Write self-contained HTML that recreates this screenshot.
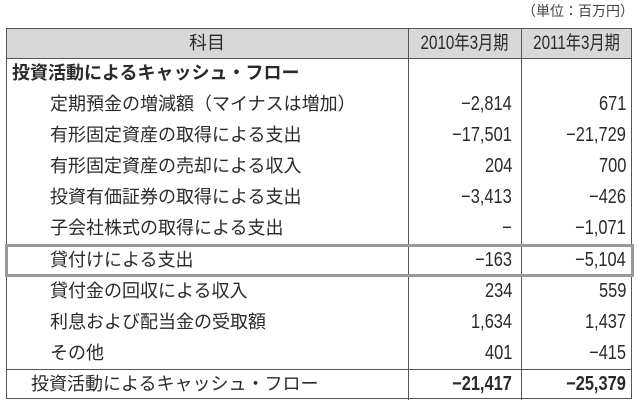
<!DOCTYPE html>
<html><head><meta charset="utf-8"><style>
body{margin:0;width:640px;height:407px;background:#fff;font-family:"Liberation Sans","Noto Sans CJK JP",sans-serif;color:#2a2a2a;position:relative;overflow:hidden}
.a{position:absolute}
.unit{right:6px;top:1px;font-size:14px;color:#444}
.tbl{left:6px;top:28px;width:626px;height:371px;border:1px solid #555;box-sizing:border-box}
.hdr{left:7px;top:29px;width:624px;height:29px;background:#d8d8d8;border-bottom:1px solid #555}
.vl{top:28px;height:372px;width:1px;background:#555}
.row{left:6px;width:626px;height:31px;font-size:18px;line-height:31px}
.row .l{position:absolute;white-space:nowrap}
.row .v1,.row .v2{position:absolute;text-align:right;font-size:20px;transform:scaleX(0.82);transform-origin:right center}
.row .v1{right:120px}
.row .v2{right:6px}
.hd{font-size:19px;transform:scaleX(0.8);transform-origin:center center}
.hl{left:5px;top:244px;width:629px;height:33px;border:3px solid #9a9a9a;box-sizing:border-box}
.hline{left:6px;width:626px;height:1px;background:#555}
</style></head><body>
<div class="a unit">（単位：百万円）</div>
<div class="a hdr"></div>
<div class="a tbl"></div>
<div class="a vl" style="left:408px"></div>
<div class="a vl" style="left:521px"></div>
<div class="a row" style="top:28px">
<span class="l" style="left:0;width:402px;text-align:center">科目</span>
<span class="l hd" style="left:402px;width:113px;text-align:center">2010年3月期</span>
<span class="l hd" style="left:515px;width:111px;text-align:center">2011年3月期</span></div>
<div class="a row" style="top:58px;font-weight:bold"><span class="l" style="left:6px">投資活動によるキャッシュ・フロー</span></div>
<div class="a row" style="top:89px"><span class="l" style="left:44px">定期預金の増減額（マイナスは増加）</span><span class="v1">−2,814</span><span class="v2">671</span></div>
<div class="a row" style="top:120px"><span class="l" style="left:44px">有形固定資産の取得による支出</span><span class="v1">−17,501</span><span class="v2">−21,729</span></div>
<div class="a row" style="top:151px"><span class="l" style="left:44px">有形固定資産の売却による収入</span><span class="v1">204</span><span class="v2">700</span></div>
<div class="a row" style="top:182px"><span class="l" style="left:44px">投資有価証券の取得による支出</span><span class="v1">−3,413</span><span class="v2">−426</span></div>
<div class="a row" style="top:213px"><span class="l" style="left:44px">子会社株式の取得による支出</span><span class="v1">−</span><span class="v2">−1,071</span></div>
<div class="a row" style="top:245px"><span class="l" style="left:44px">貸付けによる支出</span><span class="v1">−163</span><span class="v2">−5,104</span></div>
<div class="a row" style="top:276px"><span class="l" style="left:44px">貸付金の回収による収入</span><span class="v1">234</span><span class="v2">559</span></div>
<div class="a row" style="top:307px"><span class="l" style="left:44px">利息および配当金の受取額</span><span class="v1">1,634</span><span class="v2">1,437</span></div>
<div class="a row" style="top:338px"><span class="l" style="left:44px">その他</span><span class="v1">401</span><span class="v2">−415</span></div>
<div class="a hline" style="top:369px"></div>
<div class="a row" style="top:369px"><span class="l" style="left:25px">投資活動によるキャッシュ・フロー</span><span class="v1" style="font-weight:bold">−21,417</span><span class="v2" style="font-weight:bold">−25,379</span></div>
<div class="a hl"></div>
</body></html>
